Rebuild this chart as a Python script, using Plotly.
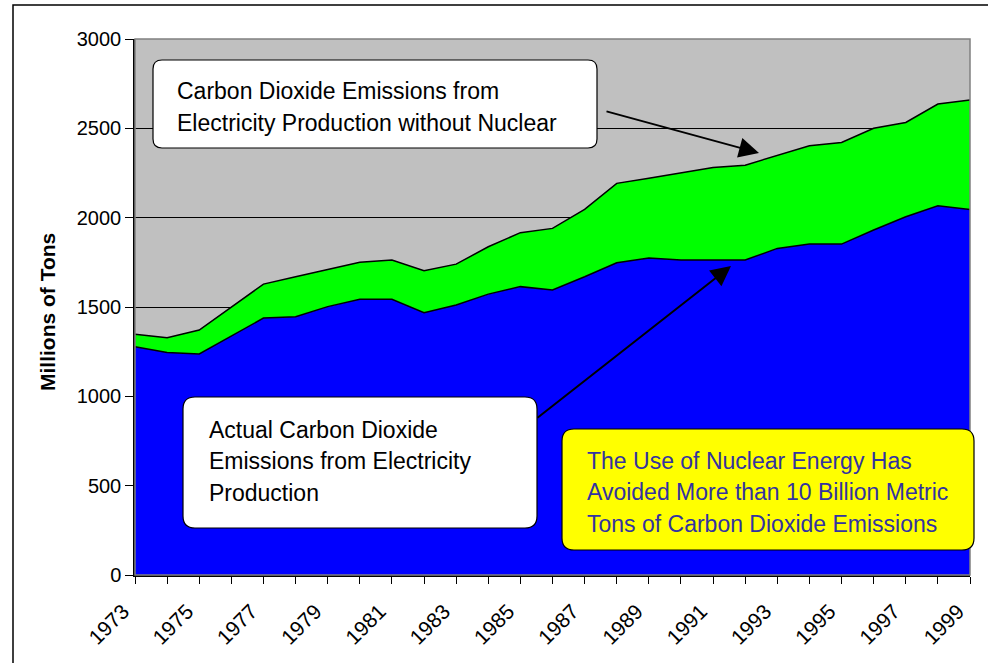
import plotly.graph_objects as go

# Annual CO2 emissions from US electricity production, millions of tons
years = list(range(1973, 2000))
actual = [1278, 1246, 1237, 1337, 1438, 1446, 1502, 1543, 1543, 1468,
          1511, 1572, 1614, 1595, 1669, 1748, 1774, 1763, 1763, 1763,
          1828, 1852, 1852, 1931, 2005, 2067, 2046]
without_nuclear = [1347, 1328, 1371, 1501, 1628, 1669, 1710, 1750, 1763, 1703,
                   1740, 1837, 1916, 1940, 2046, 2192, 2220, 2251, 2281, 2294,
                   2350, 2402, 2421, 2500, 2533, 2636, 2658]
y_ticks = [0, 500, 1000, 1500, 2000, 2500, 3000]
x_labels = [str(y) if (y - 1973) % 2 == 0 else "" for y in years]

W, H = 988, 663
L, R, T, B = 135, 18, 39, 88
PW, PH = W - L - R, H - T - B
FONT = "Arial, Liberation Sans, sans-serif"


def px(x):
    return (x - L) / PW


def py(y):
    return (H - B - y) / PH


def rounded_box(x0, y0, x1, y1, r):
    pts = [
        f"M{px(x0 + r)},{py(y0)}",
        f"L{px(x1 - r)},{py(y0)}",
        f"Q{px(x1)},{py(y0)} {px(x1)},{py(y0 + r)}",
        f"L{px(x1)},{py(y1 - r)}",
        f"Q{px(x1)},{py(y1)} {px(x1 - r)},{py(y1)}",
        f"L{px(x0 + r)},{py(y1)}",
        f"Q{px(x0)},{py(y1)} {px(x0)},{py(y1 - r)}",
        f"L{px(x0)},{py(y0 + r)}",
        f"Q{px(x0)},{py(y0)} {px(x0 + r)},{py(y0)}",
        "Z",
    ]
    return " ".join(pts)


fig = go.Figure()
fig.add_trace(go.Scatter(
    x=years, y=actual, mode="lines", fill="tozeroy",
    fillcolor="#0000ff", line=dict(color="black", width=1.5),
    name="Actual", showlegend=False,
))
fig.add_trace(go.Scatter(
    x=years, y=without_nuclear, mode="lines", fill="tonexty",
    fillcolor="#00ff00", line=dict(color="black", width=1.5),
    name="Without nuclear", showlegend=False,
))

shapes = [
    # outer chart frame
    dict(type="rect", xref="paper", yref="paper",
         x0=px(13), x1=px(W + 5), y0=py(H + 5), y1=py(5),
         line=dict(color="black", width=1.5), fillcolor="rgba(0,0,0,0)", layer="below"),
    # plot area border
    dict(type="rect", xref="paper", yref="paper", x0=0, x1=1, y0=0, y1=1,
         line=dict(color="#808080", width=1.5), layer="above"),
    # callout boxes
    dict(type="path", xref="paper", yref="paper", path=rounded_box(153, 60, 597, 148, 9),
         fillcolor="white", line=dict(color="black", width=1.2), layer="above"),
    dict(type="path", xref="paper", yref="paper", path=rounded_box(183, 397, 537, 528, 12),
         fillcolor="white", line=dict(color="black", width=1.2), layer="above"),
    dict(type="path", xref="paper", yref="paper", path=rounded_box(562, 429, 974, 550, 12),
         fillcolor="#ffff00", line=dict(color="black", width=1.2), layer="above"),
]

annotations = []


def add_lines(lines, x, baselines, color, size=23):
    for text, base in zip(lines, baselines):
        annotations.append(dict(
            text=text, xref="paper", yref="paper", x=px(x), y=py(base - 6.5),
            xanchor="left", yanchor="middle", showarrow=False,
            font=dict(family=FONT, size=size, color=color),
        ))


add_lines(["Carbon Dioxide Emissions from", "Electricity Production without Nuclear"],
          175, [97, 129], "black")
add_lines(["Actual Carbon Dioxide", "Emissions from Electricity", "Production"],
          207, [436, 467, 499], "black")
add_lines(["The Use of Nuclear Energy Has", "Avoided More than 10 Billion Metric",
           "Tons of Carbon Dioxide Emissions"],
          585, [467, 498, 530], "#3333a0", size=23)

# arrows from the callouts to the areas
annotations.append(dict(
    text="", xref="paper", yref="paper", x=px(759), y=py(153),
    ax=605 - 759, ay=111 - 153, showarrow=True,
    arrowhead=2, arrowsize=2, arrowwidth=2, arrowcolor="black",
))
annotations.append(dict(
    text="", xref="paper", yref="paper", x=px(731), y=py(266),
    ax=536 - 731, ay=419 - 266, showarrow=True,
    arrowhead=2, arrowsize=2, arrowwidth=2, arrowcolor="black",
))

# y-axis title
annotations.append(dict(
    text="<b>Millions of Tons</b>", xref="paper", yref="paper",
    x=px(48), y=py(312), textangle=-90, showarrow=False,
    xanchor="center", yanchor="middle",
    font=dict(family=FONT, size=21, color="black"),
))

fig.update_layout(
    width=W, height=H,
    margin=dict(l=L, r=R, t=T, b=B, pad=0),
    paper_bgcolor="white", plot_bgcolor="#c0c0c0",
    shapes=shapes, annotations=annotations,
    font=dict(family=FONT, size=20, color="black"),
    xaxis=dict(
        range=[1973, 1999], tickmode="array", tickvals=years, ticktext=x_labels,
        tickangle=-45, ticks="outside", ticklen=7, tickcolor="black",
        ticklabelshift=-12, ticklabelstandoff=7,
        showgrid=False, zeroline=False, showline=True, linecolor="black", linewidth=1.5,
        tickfont=dict(family=FONT, size=21),
    ),
    yaxis=dict(
        range=[0, 3000], tickmode="array", tickvals=y_ticks,
        ticks="outside", ticklen=8, tickcolor="black",
        showgrid=True, gridcolor="black", gridwidth=1,
        zeroline=False, showline=True, linecolor="black", linewidth=1.5,
        tickfont=dict(family=FONT, size=20),
    ),
)

fig.write_html("out.html")
